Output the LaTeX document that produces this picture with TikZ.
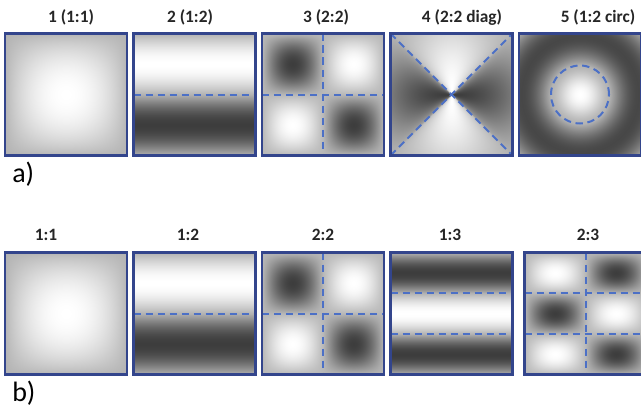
\documentclass[tikz,border=0pt]{standalone}
\usepackage{fontspec}
\setmainfont{Carlito}
\usetikzlibrary{calc}

% Field patterns as PostScript calculator functions.
% Input x y in bp (0..100); the path box maps onto 25..75.
% s runs left->right and w top->bottom, both 0..1.
% Field value f in -1..1 is turned into a grey: zero -> 0.7.
\pgfdeclarefunctionalshading{modeOneOne}{\pgfpoint{0bp}{0bp}}{\pgfpoint{100bp}{100bp}}{}{
  75 exch sub 50 div exch 25 sub 50 div exch
  180 mul sin exch 180 mul sin mul
  dup 0 lt {pop 0} if 0.75 exp 0.3 mul 0.7 add dup dup
}
\pgfdeclarefunctionalshading{modeOneTwo}{\pgfpoint{0bp}{0bp}}{\pgfpoint{100bp}{100bp}}{}{
  75 exch sub 50 div exch 25 sub 50 div exch
  exch pop 360 mul sin
  dup 0 gt {0.3 mul} {0.46 mul} ifelse 0.7 add dup dup
}
\pgfdeclarefunctionalshading{modeTwoTwo}{\pgfpoint{0bp}{0bp}}{\pgfpoint{100bp}{100bp}}{}{
  75 exch sub 50 div exch 25 sub 50 div exch
  360 mul sin exch 360 mul sin mul neg
  dup 0 gt {0.28 mul} {0.48 mul} ifelse 0.72 add dup dup
}
\pgfdeclarefunctionalshading{modeDiag}{\pgfpoint{0bp}{0bp}}{\pgfpoint{100bp}{100bp}}{}{
  75 exch sub 50 div exch 25 sub 50 div exch
  2 mul 1 sub exch 2 mul 1 sub
  dup mul exch dup mul
  2 copy add 3 1 roll exch sub
  1 index 0.000001 add div
  dup abs sqrt exch 0 lt {neg} if
  exch sqrt 62 mul dup 90 gt {pop 90} if cos mul
  dup 0 gt {0.3 mul} {0.46 mul} ifelse 0.7 add dup dup
}
\pgfdeclarefunctionalshading{modeCirc}{\pgfpoint{0bp}{0bp}}{\pgfpoint{100bp}{100bp}}{}{
  75 exch sub 50 div exch 25 sub 50 div exch
  2 mul 1 sub dup mul exch 2 mul 1 sub dup mul add sqrt 187.5 mul cos
  dup 0 gt {1.5 exp 0.3 mul} {0.42 mul} ifelse 0.7 add dup dup
}
\pgfdeclarefunctionalshading{modeOneThree}{\pgfpoint{0bp}{0bp}}{\pgfpoint{100bp}{100bp}}{}{
  75 exch sub 50 div exch 25 sub 50 div exch
  exch pop 540 mul sin neg
  dup 0 gt {0.3 mul} {0.46 mul} ifelse 0.7 add dup dup
}
\pgfdeclarefunctionalshading{modeTwoThree}{\pgfpoint{0bp}{0bp}}{\pgfpoint{100bp}{100bp}}{}{
  75 exch sub 50 div exch 25 sub 50 div exch
  540 mul sin exch 360 mul sin mul
  dup 0 gt {0.28 mul} {0.48 mul} ifelse 0.72 add dup dup
}

\definecolor{frameblue}{HTML}{33458C}
\definecolor{nodalblue}{HTML}{4C70C6}

\tikzset{
  field/.style={shade, shading=#1, minimum size=91.5pt, inner sep=0pt, outer sep=0pt},
  frame/.style={draw=frameblue, line width=1.9pt},
  nodal/.style={draw=nodalblue, line width=1.5pt, dash pattern=on 5.5pt off 3.5pt},
  caption/.style={anchor=base, font=\bfseries\fontsize{13}{15}\selectfont, text=black!85, inner sep=0pt},
  tag/.style={anchor=base west, font=\fontsize{21}{24}\selectfont, inner sep=0pt},
}

\begin{document}
\begin{tikzpicture}[x=0.75pt, y=-0.75pt]
\useasboundingbox (0,0) rectangle (641,410);
\clip (0,0) rectangle (641,410);
\fill[white] (0,0) rectangle (641,410);

% row a)
\node[field=modeOneOne]   (a1) at (66,94.5)    {};
\node[field=modeOneTwo]   (a2) at (194.5,94.5) {};
\node[field=modeTwoTwo]   (a3) at (323,94.5)   {};
\node[field=modeDiag]     (a4) at (451.5,94.5) {};
\node[field=modeCirc]     (a5) at (580,94.5)   {};

% row b)
\node[field=modeOneOne]   (b1) at (66,313.5)    {};
\node[field=modeOneTwo]   (b2) at (194.5,313.5) {};
\node[field=modeTwoTwo]   (b3) at (323,313.5)   {};
\node[field=modeOneThree] (b4) at (451.5,313.5) {};
\node[field=modeTwoThree] (b5) at (585.5,313.5) {};

% nodal lines
\draw[nodal] (a2.west) -- (a2.east);
\draw[nodal] (a3.west) -- (a3.east);
\draw[nodal] (a3.north) -- (a3.south);
\draw[nodal] (a4.north west) -- (a4.south east);
\draw[nodal] (a4.south west) -- (a4.north east);
\draw[nodal] (a5.center) circle[radius=21.75pt];

\draw[nodal] (b2.west) -- (b2.east);
\draw[nodal] (b3.west) -- (b3.east);
\draw[nodal] (b3.north) -- (b3.south);
\draw[nodal] ($(b4.north west)!1/3!(b4.south west)$) -- ($(b4.north east)!1/3!(b4.south east)$);
\draw[nodal] ($(b4.north west)!2/3!(b4.south west)$) -- ($(b4.north east)!2/3!(b4.south east)$);
\draw[nodal] (b5.north) -- (b5.south);
\draw[nodal] ($(b5.north west)!1/3!(b5.south west)$) -- ($(b5.north east)!1/3!(b5.south east)$);
\draw[nodal] ($(b5.north west)!2/3!(b5.south west)$) -- ($(b5.north east)!2/3!(b5.south east)$);

% frames
\foreach \n in {a1,a2,a3,a4,a5,b1,b2,b3,b4,b5}
  \draw[frame] (\n.north west) rectangle (\n.south east);

% captions
\node[caption] (ca1) at (71,22.5)  {1 (1:1)};
\node[caption] (ca2) at (190,22.5) {2 (1:2)};
\node[caption] (ca3) at (326,22.5) {3 (2:2)};
\node[caption] (ca4) at (462,22.5) {4 (2:2 diag)};
\node[caption] (ca5) at (598,22.5) {5 (1:2 circ)};

\node[caption] (cb1) at (46,240)  {1:1};
\node[caption] (cb2) at (188,240) {1:2};
\node[caption] (cb3) at (323,240) {2:2};
\node[caption] (cb4) at (450,240) {1:3};
\node[caption] (cb5) at (588,240) {2:3};

\node[tag] (tagA) at (12,182) {a)};
\node[tag] (tagB) at (12,401.5) {b)};
\end{tikzpicture}
\end{document}
